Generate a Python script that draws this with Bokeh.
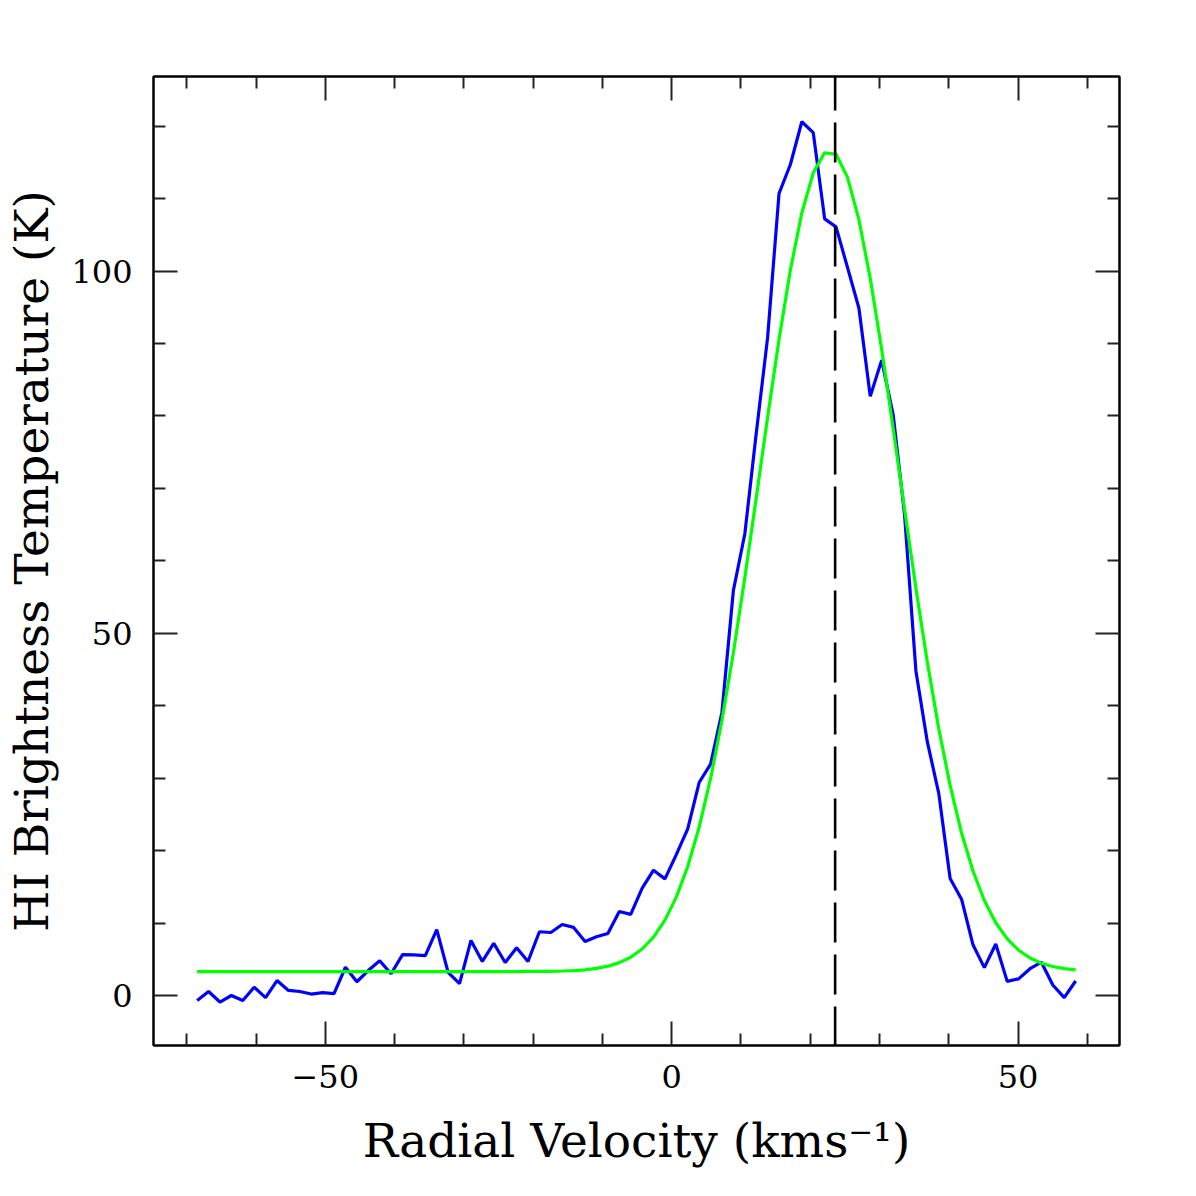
from bokeh.plotting import figure
from bokeh.models import (ColumnDataSource, FixedTicker, LinearAxis, Span, Range1d)
from bokeh.embed import file_html
from bokeh.resources import INLINE

# ---- data ----
velocity = [-68.50, -66.85, -65.21, -63.56, -61.91, -60.27, -58.62, -56.97, -55.32, -53.68,
            -52.03, -50.38, -48.74, -47.09, -45.44, -43.80, -42.15, -40.50, -38.85, -37.21,
            -35.56, -33.91, -32.27, -30.62, -28.97, -27.33, -25.68, -24.03, -22.38, -20.74,
            -19.09, -17.44, -15.80, -14.15, -12.50, -10.86, -9.21, -7.56, -5.91, -4.27,
            -2.62, -0.97, 0.67, 2.32, 3.97, 5.62, 7.26, 8.91, 10.56, 12.20,
            13.85, 15.50, 17.14, 18.79, 20.44, 22.09, 23.73, 25.38, 27.03, 28.67,
            30.32, 31.97, 33.61, 35.26, 36.91, 38.56, 40.20, 41.85, 43.50, 45.14,
            46.79, 48.44, 50.08, 51.73, 53.38, 55.02, 56.67, 58.32]

tb_observed = [-0.7, 0.55, -0.9, 0.0, -0.7, 1.15, -0.3, 2.07, 0.7, 0.55,
               0.2, 0.4, 0.25, 3.9, 1.9, 3.45, 4.8, 3.0, 5.65, 5.6,
               5.5, 9.1, 3.2, 1.65, 7.6, 4.7, 7.2, 4.55, 6.6, 4.7,
               8.8, 8.7, 9.8, 9.4, 7.45, 8.1, 8.55, 11.6, 11.2, 14.8,
               17.3, 16.1, 19.45, 23.0, 29.4, 31.95, 39.1, 55.9, 63.7, 77.5,
               90.8, 110.7, 114.7, 120.6, 119.1, 107.2, 106.1, 100.5, 94.9, 82.7,
               87.7, 80.2, 66.5, 44.8, 35.0, 27.9, 16.15, 13.3, 7.0, 3.85,
               7.1, 1.95, 2.3, 3.7, 4.6, 1.45, -0.3, 2.0]

tb_fit = [3.3, 3.3, 3.3, 3.3, 3.3, 3.3, 3.3, 3.3, 3.3, 3.3,
          3.3, 3.3, 3.3, 3.3, 3.3, 3.3, 3.3, 3.3, 3.3, 3.3,
          3.3, 3.3, 3.3, 3.3, 3.3, 3.3, 3.3, 3.31, 3.31, 3.32,
          3.32, 3.34, 3.38, 3.44, 3.55, 3.74, 4.05, 4.54, 5.29, 6.42,
          8.07, 10.41, 13.58, 17.80, 23.23, 29.96, 37.98, 47.3, 57.66, 68.62,
          79.81, 90.55, 100.14, 108.01, 113.55, 116.32, 116.12, 112.96, 107.09, 98.99,
          89.17, 78.33, 67.19, 56.23, 46.0, 36.84, 28.99, 22.43, 17.18, 13.11,
          10.04, 7.82, 6.25, 5.17, 4.46, 4.00, 3.71, 3.53]

marker_velocity = 23.6

x_major = [-50, 0, 50]
x_minor = [-70, -60, -40, -30, -20, -10, 10, 20, 30, 40, 60]
y_major = [0, 50, 100]
y_minor = [10, 20, 30, 40, 60, 70, 80, 90, 110, 120]
x_tick_labels = {-50: "\u221250", 0: "0", 50: "50"}
y_tick_labels = {0: "0", 50: "50", 100: "100"}

FONT = "DejaVu Serif"

p = figure(width=1180, height=1180, output_backend="svg", toolbar_location=None,
           x_range=Range1d(-74.8, 64.65), y_range=Range1d(-6.9, 126.85),
           min_border_left=153, min_border_right=61, min_border_top=76,
           min_border_bottom=135)
p.background_fill_color = "white"
p.border_fill_color = "white"
p.outline_line_color = "black"
p.outline_line_width = 2
p.xgrid.visible = False
p.ygrid.visible = False

src = ColumnDataSource(dict(v=velocity, obs=tb_observed, fit=tb_fit))
p.line("v", "obs", source=src, line_color="#0000FF", line_width=3.2)
p.line("v", "fit", source=src, line_color="#00FF00", line_width=3.2)

p.add_layout(Span(location=marker_velocity, dimension="height", line_color="black",
                  line_width=2.6, line_dash="40 12", line_dash_offset=6))

xt = FixedTicker(ticks=x_major, minor_ticks=x_minor)
yt = FixedTicker(ticks=y_major, minor_ticks=y_minor)


def style_axis(ax, ticker):
    ax.ticker = ticker
    ax.axis_line_color = "black"
    ax.axis_line_width = 2
    ax.major_tick_line_color = "#222222"
    ax.major_tick_line_width = 2
    ax.minor_tick_line_color = "#222222"
    ax.minor_tick_line_width = 2
    ax.major_tick_in = 24
    ax.major_tick_out = 0
    ax.minor_tick_in = 12
    ax.minor_tick_out = 0
    ax.major_label_text_font = FONT
    ax.major_label_text_color = "black"
    ax.axis_label_text_font = FONT
    ax.axis_label_text_font_style = "normal"
    ax.axis_label_text_color = "black"


xa = p.xaxis[0]
style_axis(xa, xt)
xa.major_label_overrides = x_tick_labels
xa.major_label_text_font_size = "32px"
xa.major_label_standoff = 19
xa.axis_label = "Radial Velocity (kms\u207b\u00b9)"
xa.axis_label_text_font_size = "47px"
xa.axis_label_standoff = 22

ya = p.yaxis[0]
style_axis(ya, yt)
ya.major_label_overrides = y_tick_labels
ya.major_label_text_font_size = "32px"
ya.major_label_standoff = 21
ya.axis_label = "HI Brightness Temperature (K)"
ya.axis_label_text_font_size = "47px"
ya.axis_label_standoff = 9

top = LinearAxis()
style_axis(top, xt)
top.major_label_text_color = None
top.major_label_text_font_size = "8px"
top.major_label_standoff = 0
p.add_layout(top, "above")

right = LinearAxis()
style_axis(right, yt)
right.major_label_text_color = None
right.major_label_text_font_size = "8px"
right.major_label_standoff = 0
p.add_layout(right, "right")

open("out.html", "w").write(file_html(p, INLINE))
